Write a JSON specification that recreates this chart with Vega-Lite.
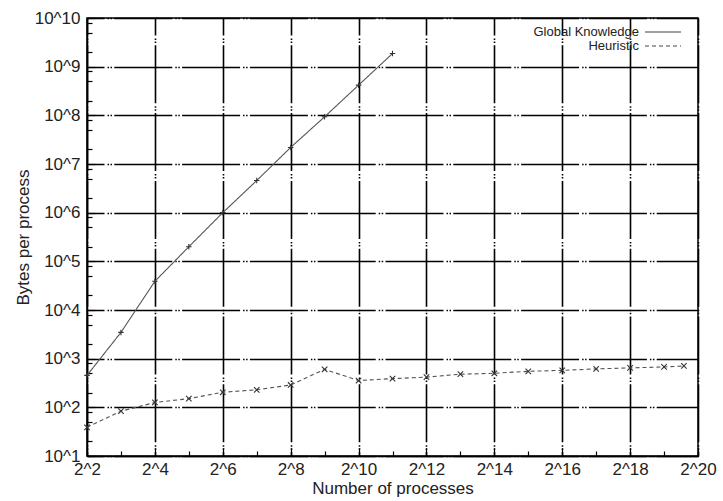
{
  "$schema": "https://vega.github.io/schema/vega-lite/v6.json",
  "width": 611,
  "height": 438,
  "autosize": {"type": "none"},
  "padding": {"left": 87, "top": 18, "right": 25, "bottom": 45},
  "background": "white",
  "config": {
    "font": "Liberation Sans",
    "view": {"stroke": "#000", "strokeWidth": 1.5},
    "axis": {
      "domainColor": "#000", "domainWidth": 1.5,
      "tickColor": "#000", "tickWidth": 1.2,
      "gridColor": "#000", "gridWidth": 1.6,
      "gridDash": [58, 3, 1.5, 1.5, 1.5, 2.3], "gridDashOffset": 41,
      "labelFont": "Liberation Sans", "labelFontSize": 17, "labelColor": "#222",
      "titleFont": "Liberation Sans", "titleFontSize": 17, "titleFontWeight": "normal", "titleColor": "#222"
    }
  },
  "data": {
    "values": [
      {"p": 4, "bytes": 454, "series": "Global Knowledge"},
      {"p": 8, "bytes": 3467, "series": "Global Knowledge"},
      {"p": 16, "bytes": 38900, "series": "Global Knowledge"},
      {"p": 32, "bytes": 199500, "series": "Global Knowledge"},
      {"p": 64, "bytes": 1000000, "series": "Global Knowledge"},
      {"p": 128, "bytes": 4570000, "series": "Global Knowledge"},
      {"p": 256, "bytes": 21900000, "series": "Global Knowledge"},
      {"p": 512, "bytes": 93300000, "series": "Global Knowledge"},
      {"p": 1024, "bytes": 417000000, "series": "Global Knowledge"},
      {"p": 2048, "bytes": 1860000000, "series": "Global Knowledge"},
      {"p": 4, "bytes": 38.9, "series": "Heuristic"},
      {"p": 8, "bytes": 83.2, "series": "Heuristic"},
      {"p": 16, "bytes": 126, "series": "Heuristic"},
      {"p": 32, "bytes": 151, "series": "Heuristic"},
      {"p": 64, "bytes": 204, "series": "Heuristic"},
      {"p": 128, "bytes": 229, "series": "Heuristic"},
      {"p": 256, "bytes": 288, "series": "Heuristic"},
      {"p": 512, "bytes": 603, "series": "Heuristic"},
      {"p": 1024, "bytes": 355, "series": "Heuristic"},
      {"p": 2048, "bytes": 389, "series": "Heuristic"},
      {"p": 4096, "bytes": 417, "series": "Heuristic"},
      {"p": 8192, "bytes": 479, "series": "Heuristic"},
      {"p": 16384, "bytes": 501, "series": "Heuristic"},
      {"p": 32768, "bytes": 550, "series": "Heuristic"},
      {"p": 65536, "bytes": 575, "series": "Heuristic"},
      {"p": 131072, "bytes": 617, "series": "Heuristic"},
      {"p": 262144, "bytes": 646, "series": "Heuristic"},
      {"p": 524288, "bytes": 676, "series": "Heuristic"},
      {"p": 786432, "bytes": 708, "series": "Heuristic"}
    ]
  },
  "encoding": {
    "x": {
      "field": "p", "type": "quantitative",
      "scale": {"type": "log", "base": 2, "domain": [4, 1048576], "nice": false},
      "axis": {
        "title": "Number of processes",
        "titlePadding": 0,
        "values": [4, 8, 16, 32, 64, 128, 256, 512, 1024, 2048, 4096, 8192, 16384, 32768, 65536, 131072, 262144, 524288, 1048576],
        "labelExpr": "round(log(datum.value)/LN2) % 2 == 0 ? '2^' + round(log(datum.value)/LN2) : ''",
        "tickSize": {"condition": {"test": "round(log(datum.value)/LN2) % 2 == 0", "value": -8}, "value": -5},
        "gridOpacity": {"condition": {"test": "round(log(datum.value)/LN2) % 2 == 0", "value": 1}, "value": 0},
        "labelPadding": 13,
        "labelFlush": false,
        "labelOverlap": false
      }
    },
    "y": {
      "field": "bytes", "type": "quantitative",
      "scale": {"type": "log", "base": 10, "domain": [10, 10000000000], "nice": false},
      "axis": {
        "title": "Bytes per process",
        "titlePadding": 2,
        "values": [10, 20, 50, 80, 100, 200, 500, 800, 1000, 2000, 5000, 8000, 10000, 20000, 50000, 80000, 100000, 200000, 500000, 800000, 1000000, 2000000, 5000000, 8000000, 10000000, 20000000, 50000000, 80000000, 100000000, 200000000, 500000000, 800000000, 1000000000, 2000000000, 5000000000, 8000000000, 10000000000],
        "labelExpr": "abs(log(datum.value)/LN10 - round(log(datum.value)/LN10)) < 0.001 ? '10^' + round(log(datum.value)/LN10) : ''",
        "tickSize": {"condition": {"test": "abs(log(datum.value)/LN10 - round(log(datum.value)/LN10)) < 0.001", "value": -8}, "value": -5},
        "gridOpacity": {"condition": {"test": "abs(log(datum.value)/LN10 - round(log(datum.value)/LN10)) < 0.001", "value": 1}, "value": 0},
        "labelPadding": 15,
        "labelFlush": false,
        "labelOverlap": false
      }
    }
  },
  "layer": [
    {
      "mark": {"type": "line", "color": "#555", "strokeWidth": 1.1},
      "encoding": {
        "strokeDash": {
          "field": "series", "type": "nominal",
          "scale": {"domain": ["Global Knowledge", "Heuristic"], "range": [[1, 0], [4, 3]]},
          "legend": {
            "title": null,
            "orient": "none",
            "legendX": 568,
            "legendY": 6,
            "symbolType": "M-3,0L3,0",
            "symbolSize": 144,
            "symbolStrokeColor": "#444",
            "symbolStrokeWidth": 1.1,
            "labelFontSize": 13,
            "labelFont": "Liberation Sans",
            "labelColor": "#222",
            "labelAlign": "right",
            "labelOffset": -31,
            "rowPadding": 0,
            "fillColor": "white",
            "padding": 1
          }
        }
      }
    },
    {
      "transform": [{"filter": "datum.series == 'Global Knowledge'"}],
      "mark": {"type": "point", "filled": false, "strokeWidth": 1.1, "color": "#333", "size": 30, "opacity": 1, "shape": "M-1,0L1,0M0,-1L0,1"}
    },
    {
      "transform": [{"filter": "datum.series == 'Heuristic'"}],
      "mark": {"type": "point", "filled": false, "strokeWidth": 1.1, "color": "#333", "size": 30, "opacity": 1, "shape": "M-1,-1L1,1M-1,1L1,-1"}
    }
  ]
}
